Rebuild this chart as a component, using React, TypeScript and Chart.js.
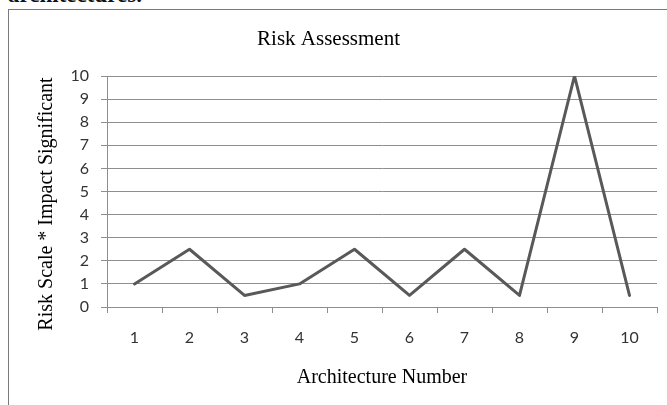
import React, { useEffect, useRef } from "react";
import { Chart, registerables } from "chart.js";

Chart.register(...registerables);

// ---- data ----
const categories = ["1", "2", "3", "4", "5", "6", "7", "8", "9", "10"];
const riskValues = [1, 2.5, 0.5, 1, 2.5, 0.5, 2.5, 0.5, 10, 0.5];
const yMin = 0;
const yMax = 10;
const yStep = 1;
const chartTitle = "Risk Assessment";
const xAxisTitle = "Architecture Number";
const yAxisTitle = "Risk Scale * Impact Significant";
const leadText = "architectures.";

const SERIF = "'Liberation Serif', 'Times New Roman', serif";
const SANS = "Lato, 'Open Sans', sans-serif";
const GRID = "#8e8e8e";

export default function App() {
  const canvasRef = useRef<HTMLCanvasElement | null>(null);

  useEffect(() => {
    const canvas = canvasRef.current;
    if (!canvas) return;
    const chart = new Chart(canvas, {
      type: "line",
      data: {
        labels: categories,
        datasets: [
          {
            data: riskValues,
            borderColor: "#595959",
            backgroundColor: "#595959",
            borderWidth: 3,
            pointRadius: 0,
            pointHoverRadius: 0,
            tension: 0,
            borderJoinStyle: "round",
            borderCapStyle: "round",
            fill: false,
          },
        ],
      },
      options: {
        animation: false,
        responsive: false,
        maintainAspectRatio: false,
        events: [],
        layout: { padding: { left: 0, right: 10, top: 0, bottom: 0 } },
        plugins: {
          legend: { display: false },
          tooltip: { enabled: false },
          title: {
            display: true,
            text: chartTitle,
            color: "#000",
            font: { family: SERIF, size: 21, weight: "normal" },
            padding: { top: 27, bottom: 23.8 },
          },
        },
        scales: {
          x: {
            type: "category",
            offset: true,
            grid: {
              display: true,
              drawOnChartArea: false,
              drawTicks: true,
              tickLength: 6,
              offset: true,
              color: GRID,
            },
            border: { display: true, color: GRID },
            ticks: {
              color: "#333",
              font: { family: SANS, size: 16 },
              padding: 15,
              maxRotation: 0,
              autoSkip: false,
            },
            title: {
              display: true,
              text: xAxisTitle,
              color: "#000",
              font: { family: SERIF, size: 20 },
              padding: { top: 0, bottom: 15 },
            },
            afterFit: (s: any) => {
              s.height = 98;
            },
          },
          y: {
            min: yMin,
            max: yMax,
            grid: { color: GRID, drawTicks: true, tickLength: 6 },
            border: { display: true, color: GRID },
            ticks: {
              stepSize: yStep,
              color: "#333",
              font: { family: SANS, size: 16 },
              padding: 12,
            },
            afterFit: (s: any) => {
              s.width = 107;
            },
          },
        },
      },
    });
    return () => chart.destroy();
  }, []);

  return (
    <div
      style={{
        position: "fixed",
        left: 0,
        top: 0,
        width: 667,
        height: 405,
        overflow: "hidden",
        background: "#fff",
      }}
    >
      <div
        style={{
          position: "absolute",
          left: 8,
          top: -17,
          fontFamily: SERIF,
          fontWeight: "bold",
          fontSize: 23,
          lineHeight: "23px",
          color: "#111",
          whiteSpace: "nowrap",
        }}
      >
        {leadText}
      </div>
      <div
        style={{
          position: "absolute",
          left: 8,
          top: 9,
          width: 720,
          height: 500,
          borderLeft: "1px solid #7a7a7a",
          borderTop: "1px solid #7a7a7a",
        }}
      />
      <canvas
        ref={canvasRef}
        width={667}
        height={405}
        style={{ position: "absolute", left: 0, top: 0, width: 667, height: 405 }}
      />
      <div
        style={{
          position: "absolute",
          left: 44.5 - 150,
          top: 203.5 - 10,
          width: 300,
          height: 20,
          lineHeight: "20px",
          fontFamily: SERIF,
          fontSize: 20,
          color: "#000",
          textAlign: "center",
          whiteSpace: "nowrap",
          transform: "rotate(-90deg)",
          transformOrigin: "50% 50%",
        }}
      >
        {yAxisTitle}
      </div>
    </div>
  );
}
